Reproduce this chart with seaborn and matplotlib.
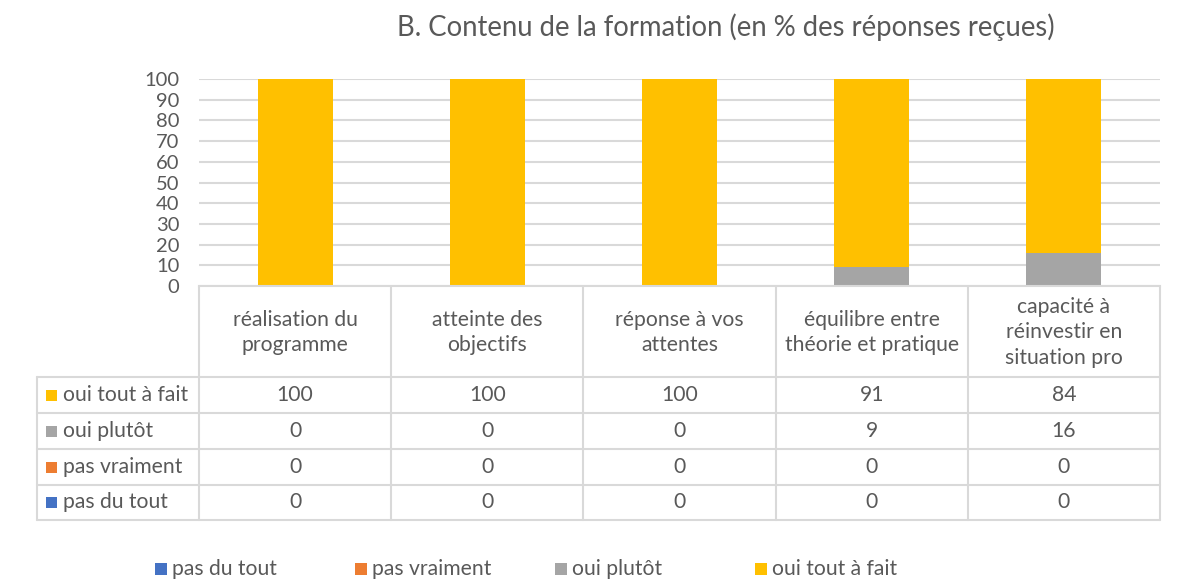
import matplotlib
matplotlib.use("Agg")
import matplotlib.pyplot as plt
import numpy as np
import seaborn as sns

# ---------------------------------------------------------------------------
# Data
# ---------------------------------------------------------------------------

categories = [
    "réalisation du\nprogramme",
    "atteinte des\nobjectifs",
    "réponse à vos\nattentes",
    "équilibre entre\nthéorie et pratique",
    "capacité à\nréinvestir en\nsituation pro",
]
series_names = ["pas du tout", "pas vraiment", "oui plutôt", "oui tout à fait"]
pas_du_tout = [0, 0, 0, 0, 0]
pas_vraiment = [0, 0, 0, 0, 0]
oui_plutot = [0, 0, 0, 9, 16]
oui_tout_a_fait = [100, 100, 100, 91, 84]
y_ticks = list(range(0, 101, 10))

COLORS = ["#4472C4", "#ED7D31", "#A5A5A5", "#FFC000"]
TXT = "#595959"
GRID = "#D9D9D9"
FONT = "Lato"
FS = 15.2

sns.set_theme(style="white")
plt.rcParams["font.family"] = [FONT, "DejaVu Sans"]

W, H = 1187, 583
fig = plt.figure(figsize=(W / 100, H / 100), dpi=100)

# plot area in pixel terms
X0, X1, Y100, Y0 = 199, 1160, 79, 286
ax = fig.add_axes([X0 / W, 1 - Y0 / H, (X1 - X0) / W, (Y0 - Y100) / H])

series = [pas_du_tout, pas_vraiment, oui_plutot, oui_tout_a_fait]
xlab = [c.replace("\n", " ") for c in categories]
bottom = np.zeros(len(categories))
for name, vals, col in zip(series_names, series, COLORS):
    sns.barplot(x=xlab, y=vals, color=col, saturation=1, width=0.39,
                bottom=bottom, ax=ax, label=name, linewidth=0, legend=False)
    bottom = bottom + np.array(vals)

ax.set_ylim(0, 100)
ax.set_xlim(-0.5, len(categories) - 0.5)
ax.set_yticks(y_ticks)
ax.set_yticklabels([str(t) for t in y_ticks], color=TXT, fontsize=14.5)
ax.set_xticks([])
ax.set_xlabel("")
ax.set_ylabel("")
ax.grid(axis="y", color=GRID, linewidth=1.5)
ax.set_axisbelow(True)
for s in ["top", "right", "left"]:
    ax.spines[s].set_visible(False)
ax.spines["bottom"].set_color(GRID)
ax.spines["bottom"].set_linewidth(1.5)
ax.tick_params(axis="y", length=0, pad=14)

# ---------------------------------------------------------------------------
# Data table + legend, drawn in pixel coordinates
# ---------------------------------------------------------------------------

ov = fig.add_axes([0, 0, 1, 1], zorder=-1)
ov.set_xlim(0, W)
ov.set_ylim(H, 0)
ov.axis("off")

TL = 37
col_w = (X1 - X0) / len(categories)
col_x = [X0 + i * col_w for i in range(len(categories) + 1)]
row_y = [377, 413, 449, 485, 520]
lkw = dict(color=GRID, linewidth=1.5)

for x in col_x:
    ov.plot([x, x], [Y0, row_y[-1]], **lkw)
ov.plot([TL, TL], [row_y[0], row_y[-1]], **lkw)
for y in row_y:
    ov.plot([TL, X1], [y, y], **lkw)

# header labels
for i, cat in enumerate(categories):
    ov.text(X0 + (i + 0.5) * col_w, (Y0 + row_y[0]) / 2 + 1, cat, ha="center",
            va="center", fontsize=FS, color=TXT, linespacing=1.33)

# rows: top row is the top of the stack
for r, idx in enumerate([3, 2, 1, 0]):
    yc = (row_y[r] + row_y[r + 1]) / 2
    ov.add_patch(plt.Rectangle((46, yc - 5.5), 11, 11, color=COLORS[idx], lw=0))
    ov.text(63, yc, series_names[idx], ha="left", va="center",
            fontsize=FS, color=TXT)
    for i, v in enumerate(series[idx]):
        ov.text(X0 + (i + 0.5) * col_w, yc, str(v), ha="center", va="center",
                fontsize=FS, color=TXT)

# bottom legend
for k, (name, col) in enumerate(zip(series_names, COLORS)):
    lx = 155 + k * 200
    ov.add_patch(plt.Rectangle((lx, 563), 12, 12, color=col, lw=0))
    ov.text(lx + 17, 569, name, ha="left", va="center", fontsize=FS, color=TXT)

fig.text(726 / W, 1 - 27 / H, "B. Contenu de la formation (en % des réponses reçues)",
         ha="center", va="center", fontsize=19.8, color=TXT)

fig.savefig("out.png", dpi=100, facecolor="white")
